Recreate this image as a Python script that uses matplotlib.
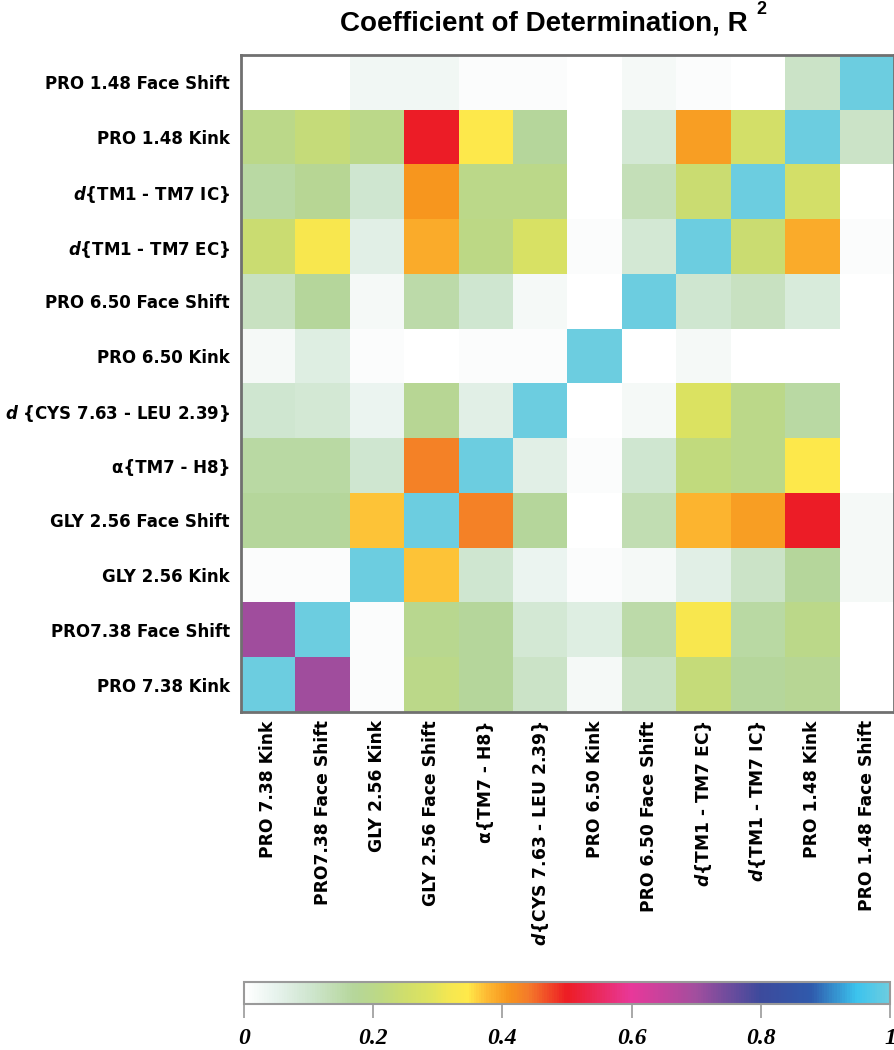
import numpy as np
import matplotlib
matplotlib.use('Agg')
from matplotlib import pyplot as plt
from matplotlib.colors import LinearSegmentedColormap

plt.rcParams['mathtext.fontset'] = 'custom'
plt.rcParams['mathtext.it'] = 'DejaVu Sans:italic:bold'
plt.rcParams['mathtext.rm'] = 'DejaVu Sans:bold'

# variables, in the order of the x axis (left to right)
col_labels = ['PRO 7.38 Kink', 'PRO7.38 Face Shift', 'GLY 2.56 Kink', 'GLY 2.56 Face Shift',
              'α{TM7 - H8}', '$d${CYS 7.63 - LEU 2.39}', 'PRO 6.50 Kink', 'PRO 6.50 Face Shift',
              '$d${TM1 - TM7 EC}', '$d${TM1 - TM7 IC}', 'PRO 1.48 Kink', 'PRO 1.48 Face Shift']
# y axis, top to bottom
row_labels = ['PRO 1.48 Face Shift', 'PRO 1.48 Kink', '$d${TM1 - TM7 IC}', '$d${TM1 - TM7 EC}',
              'PRO 6.50 Face Shift', 'PRO 6.50 Kink', '$d$ {CYS 7.63 - LEU 2.39}', 'α{TM7 - H8}',
              'GLY 2.56 Face Shift', 'GLY 2.56 Kink', 'PRO7.38 Face Shift', 'PRO 7.38 Kink']

r2 = np.array([
    [0.00, 0.00, 0.03, 0.03, 0.01, 0.01, 0.00, 0.02, 0.01, 0.00, 0.11, 1.00],
    [0.20, 0.23, 0.20, 0.50, 0.34, 0.17, 0.00, 0.09, 0.40, 0.26, 1.00, 0.11],
    [0.16, 0.18, 0.10, 0.41, 0.20, 0.20, 0.00, 0.13, 0.24, 1.00, 0.26, 0.00],
    [0.24, 0.33, 0.06, 0.39, 0.21, 0.27, 0.01, 0.09, 1.00, 0.24, 0.39, 0.01],
    [0.12, 0.17, 0.02, 0.15, 0.10, 0.02, 0.00, 1.00, 0.10, 0.12, 0.08, 0.00],
    [0.02, 0.07, 0.01, 0.00, 0.01, 0.01, 1.00, 0.00, 0.02, 0.00, 0.00, 0.00],
    [0.10, 0.09, 0.04, 0.18, 0.06, 1.00, 0.00, 0.02, 0.28, 0.20, 0.16, 0.00],
    [0.16, 0.16, 0.10, 0.43, 1.00, 0.06, 0.01, 0.10, 0.22, 0.20, 0.34, 0.00],
    [0.17, 0.17, 0.37, 1.00, 0.43, 0.17, 0.00, 0.14, 0.38, 0.40, 0.50, 0.02],
    [0.01, 0.01, 1.00, 0.37, 0.10, 0.04, 0.01, 0.02, 0.06, 0.11, 0.17, 0.02],
    [0.70, 1.00, 0.01, 0.19, 0.17, 0.09, 0.07, 0.15, 0.33, 0.16, 0.20, 0.00],
    [1.00, 0.70, 0.01, 0.20, 0.17, 0.11, 0.02, 0.12, 0.23, 0.17, 0.18, 0.00],
])

cb_ticks = [0, 0.2, 0.4, 0.6, 0.8, 1]
cb_ticklabels = ['0', '0.2', '0.4', '0.6', '0.8', '1']

# colour scale: white -> green -> yellow -> orange -> red -> magenta -> purple -> blue -> cyan
nodes = [(0.00, '#ffffff'), (0.05, '#e6f2ec'), (0.10, '#cfe6cf'), (0.17, '#b5d69a'),
         (0.21, '#bdd984'), (0.25, '#d0de6b'), (0.29, '#e0e45e'), (0.315, '#f3e752'),
         (0.345, '#ffe94a'), (0.375, '#fdba33'), (0.41, '#f7941d'), (0.44, '#f47a2a'),
         (0.50, '#ed1c24'), (0.60, '#e8389a'), (0.70, '#a24e9e'), (0.80, '#3d4a9c'),
         (0.88, '#2f5aac'), (0.95, '#3bc3ee'), (1.00, '#6ccde0')]
cmap = LinearSegmentedColormap.from_list('r2', nodes)

fig = plt.figure(figsize=(8.95, 10.5), dpi=100)
ax = fig.add_axes([0.2693, 0.3219, 0.7296, 0.6257])
im = ax.imshow(r2, cmap=cmap, vmin=0, vmax=1, aspect='auto', interpolation='nearest')

ax.set_xticks(range(len(col_labels)))
ax.set_xticklabels(col_labels, rotation=90, fontsize=12.3, fontweight='bold', family='DejaVu Sans')
ax.set_yticks(range(len(row_labels)))
ax.set_yticklabels(row_labels, fontsize=12, fontweight='bold', family='DejaVu Sans')
ax.tick_params(length=0)
ax.tick_params(axis='y', pad=8)
ax.tick_params(axis='x', pad=6)
for s in ax.spines.values():
    s.set_color('#707070')
    s.set_linewidth(2)

title = fig.text(0.608, 0.978, 'Coefficient of Determination, R', ha='center', va='center',
                 fontsize=20, fontweight='bold', family='Liberation Sans')
fig.canvas.draw()
bb = title.get_window_extent().transformed(fig.transFigure.inverted())
fig.text(bb.x1 + 0.009, 0.991, '2', ha='left', va='center', fontsize=13, fontweight='bold',
         family='Liberation Sans')

cax = fig.add_axes([0.2726, 0.0438, 0.7218, 0.021])
cb = fig.colorbar(im, cax=cax, orientation='horizontal', ticks=cb_ticks)
cb.set_ticklabels(cb_ticklabels)
cb.outline.set_edgecolor('#9a9a9a')
cb.outline.set_linewidth(1.5)
cax.tick_params(length=10, width=1.2, color='#9a9a9a', pad=7)
for t in cax.get_xticklabels():
    t.set_family('Liberation Serif')
    t.set_style('italic')
    t.set_fontweight('bold')
    t.set_fontsize(17)

plt.savefig('out.png', dpi=100)
